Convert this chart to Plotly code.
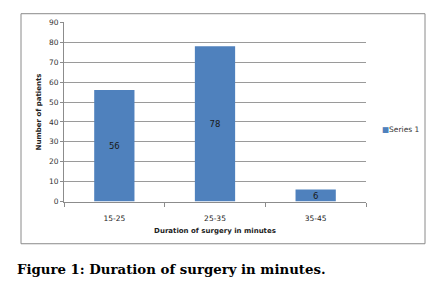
import plotly.graph_objects as go

categories = ["15-25", "25-35", "35-45"]
values = [56, 78, 6]
y_ticks = [0, 10, 20, 30, 40, 50, 60, 70, 80, 90]
series_name = "Series 1"

W, H = 436, 306
fig = go.Figure()
fig.add_trace(go.Bar(
    x=categories, y=values, name=series_name,
    marker=dict(color="#4F81BD", line=dict(width=0)),
    text=[str(v) for v in values], textposition="inside",
    insidetextanchor="middle", textangle=0,
    textfont=dict(family="DejaVu Sans", size=8.5, color="#1a1a1a"),
    showlegend=False,
))

fig.update_layout(
    width=W, height=H, margin=dict(l=0, r=0, t=0, b=0),
    paper_bgcolor="white", plot_bgcolor="white",
    bargap=0.6,
    uniformtext=dict(minsize=8, mode="show"),
    xaxis=dict(
        domain=[64 / W, 366 / W], type="category",
        showline=True, linecolor="#8c8c8c", linewidth=1,
        ticks="outside", tickson="boundaries", ticklen=4, tickcolor="#8c8c8c",
        ticklabelstandoff=9,
        tickfont=dict(family="DejaVu Sans", size=7.5, color="#222"),
        title=dict(text="<b>Duration of surgery in minutes</b>",
                   font=dict(family="DejaVu Sans", size=7, color="#222"),
                   standoff=6),
        showgrid=False,
    ),
    yaxis=dict(
        domain=[1 - 203.5 / H, 1 - 19 / H], range=[0, 90],
        tickvals=y_ticks,
        showline=True, linecolor="#8c8c8c", linewidth=1,
        ticks="outside", ticklen=3, tickcolor="#8c8c8c",
        showgrid=True, gridcolor="#9a9a9a", gridwidth=1,
        tickfont=dict(family="DejaVu Sans", size=7.5, color="#333"),
        title=dict(text="<b>Number of patients</b>",
                   font=dict(family="DejaVu Sans", size=7, color="#222"),
                   standoff=6),
        zeroline=False,
    ),
    shapes=[dict(type="rect", xref="paper", yref="paper",
                 x0=21 / W, x1=425 / W, y0=1 - 247 / H, y1=1 - 10 / H,
                 line=dict(color="#8a8a8a", width=1), fillcolor="rgba(0,0,0,0)")],
    annotations=[
        dict(text="<span style='color:#4F81BD'>■</span>" + series_name,
             xref="paper", yref="paper", x=380 / W, y=1 - 129 / H,
             xanchor="left", yanchor="middle", showarrow=False,
             font=dict(family="DejaVu Sans", size=7.5, color="#333")),
        dict(text="<b>Figure 1: Duration of surgery in minutes.</b>",
             xref="paper", yref="paper", x=15 / W, y=1 - 274 / H,
             xanchor="left", yanchor="middle", showarrow=False,
             font=dict(family="DejaVu Serif", size=13.3, color="black")),
    ],
)

fig.write_html("out.html", config={"displayModeBar": False},
               post_script="document.body.style.margin='0';document.body.style.overflow='hidden';")
